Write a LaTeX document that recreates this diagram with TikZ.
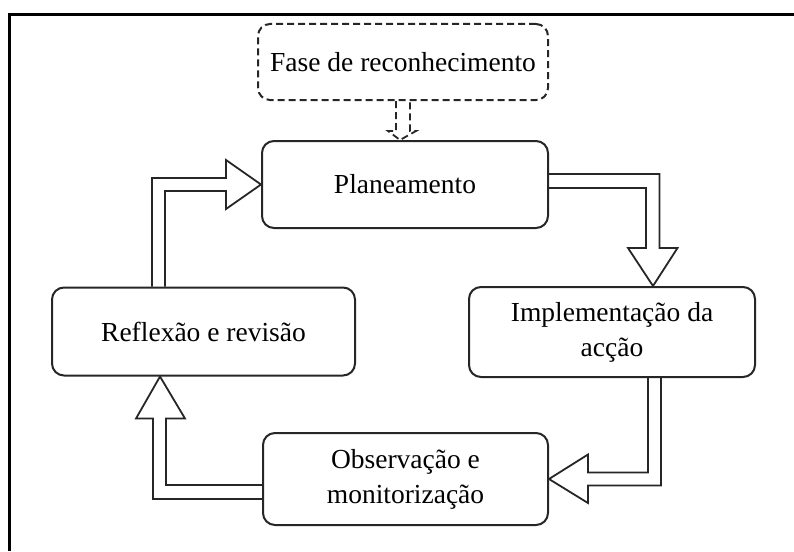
\documentclass[tikz,border=0pt]{standalone}
\usepackage{fontspec}
\setmainfont{Liberation Serif}
\usetikzlibrary{calc}

\tikzset{
	box/.style={draw=black!85, line width=2, rounded corners=12, align=center, inner sep=0,
		font=\fontsize{27.5}{35}\selectfont},
	hollow/.style={draw=black!85, line width=1.8, line join=miter},
}

\begin{document}
\begin{tikzpicture}[x=1pt, y=-1pt]
	\useasboundingbox (0,0) rectangle (794,551);
	%frame
	\draw[line width=3] (9.5,551) -- (9.5,14.5) -- (794,14.5);
	
	%the five stages
	\node[box, dashed, dash pattern=on 7 off 4, minimum width=290, minimum height=76] (fase) at (403,62) {Fase de reconhecimento};
	\node[box, minimum width=286, minimum height=87] (plan) at (405,184.5) {Planeamento};
	\node[box, minimum width=286, minimum height=90] (impl) at (612,332) {Implementação da\\acção};
	\node[box, minimum width=303, minimum height=88] (refl) at (203.5,331.5) {Reflexão e revisão};
	\node[box, minimum width=285, minimum height=92] (obs) at (405.5,479) {Observação e\\monitorização};
	
	%hollow arrows
	\draw[hollow, dashed, dash pattern=on 7 off 4] ($(fase.south)+(-7,0)$) -- ++(0,30) -- ++(-8,0) -- ($(plan.north)+(-5,0)$) -- ($(fase.south)+(13,30)$) -- ++(-6,0) -- ($(fase.south)+(7,0)$);
	\draw[hollow] ($(refl.north)+(-51.5,0)$) |- ($(plan.west)+(-35,-6.5)$) -- ++(0,-18) -- (plan.west) -- ($(plan.west)+(-35,24.5)$) -- ++(0,-18) -| ($(refl.north)+(-38.5,0)$);
	\draw[hollow] ($(plan.east)+(0,-10.5)$) -| ($(impl.north)+(47.5,-38)$) -- ++(18,0) -- ($(impl.north)+(41,0)$) -- ($(impl.north)+(16,-38)$) -- ++(18,0) |- ($(plan.east)+(0,3.5)$);
	\draw[hollow] ($(impl.south)+(36,0)$) |- ($(obs.east)+(39,-6.5)$) -- ++(0,-18) -- (obs.east) -- ($(obs.east)+(39,24)$) -- ++(0,-17.5) -| ($(impl.south)+(49,0)$);
	\draw[hollow] ($(obs.west)+(0,6)$) -| ($(refl.south)+(-37.5,42)$) -- ++(19,0) -- ($(refl.south)+(-43.5,0)$) -- ($(refl.south)+(-67.5,42)$) -- ++(17,0) |- ($(obs.west)+(0,20)$);
\end{tikzpicture}
\end{document}
